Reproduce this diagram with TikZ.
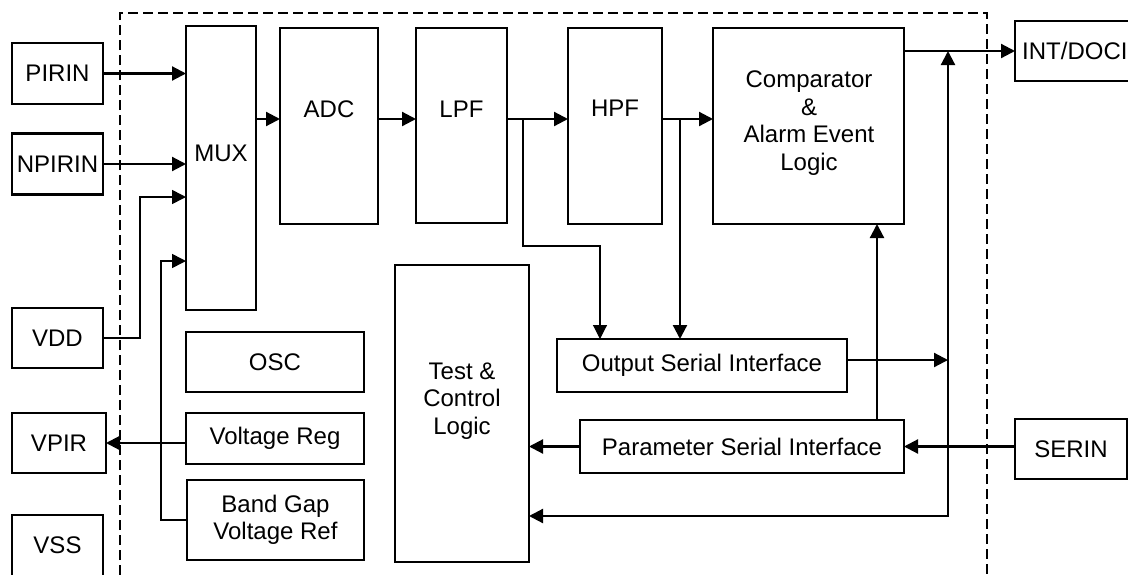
\documentclass[tikz,border=0pt]{standalone}
\usepackage{fontspec}
\setmainfont{Liberation Sans}
\usetikzlibrary{arrows.meta,calc}
\newcommand\diagfont{\fontsize{24}{27.5}\selectfont}
\begin{document}
\begin{tikzpicture}[x=1pt,y=-1pt,
  box/.style={draw,line width=2.2pt,inner sep=0pt,outer sep=0pt,font=\diagfont,align=center},
  lbl/.style={inner sep=0pt,font=\diagfont,align=center},
  arr/.style={line width=2.2pt,-{Triangle[length=14pt,width=14pt]}},
  arrt/.style={line width=1.6pt,-{Triangle[length=14pt,width=14pt]}},
  thinarr/.style={line width=1.1pt,-{Triangle[length=14pt,width=14pt]}},
  frame/.style={line width=2.2pt,dash pattern=on 10pt off 5pt}]
\useasboundingbox (0,0) rectangle (1128,574);
\fill[white] (0,0) rectangle (1128,574);
\clip (0,0) rectangle (1128,574);

% dashed chip outline
\draw[frame] (120,590) -- (120,13) -- (987,13) -- (987,590);

% external pins
\node[box,minimum width=91pt,minimum height=61pt] (pirin) at (57.5,73.5) {PIRIN};
\node[box,minimum width=91pt,minimum height=61pt] (npirin) at (57.5,164) {NPIRIN};
\node[box,minimum width=91pt,minimum height=60pt] (vdd) at (57.5,338) {VDD};
\node[box,minimum width=94pt,minimum height=60pt] (vpir) at (59,443) {VPIR};
\node[box,minimum width=91pt,minimum height=61pt] (vss) at (57.5,545.5) {VSS};
\node[box,minimum width=112pt,minimum height=60pt] (serin) at (1071,449) {SERIN};
\node[box,minimum width=120pt,minimum height=60pt] (intdoci) at (1075,51) {};
\node[lbl,anchor=west] (intdocit) at (1022,51) {INT/DOCI};

% internal blocks
\node[box,minimum width=70pt,minimum height=284pt] (mux) at (221,168) {};
\node[lbl] (muxt) at (221,153) {MUX};
\node[box,minimum width=98pt,minimum height=196pt] (adc) at (329,126) {};
\node[lbl] (adct) at (329,109) {ADC};
\node[box,minimum width=91pt,minimum height=195pt] (lpf) at (461.5,125.5) {};
\node[lbl] (lpft) at (461.5,109) {LPF};
\node[box,minimum width=94pt,minimum height=196pt] (hpf) at (615,126) {};
\node[lbl] (hpft) at (615,108) {HPF};
\node[box,minimum width=191pt,minimum height=196pt] (comp) at (808.5,126) {};
\node[lbl] (compt) at (809,123) {Comparator\\\&\\Alarm Event\\Logic};
\node[box,minimum width=134pt,minimum height=297pt] (test) at (462,413.5) {};
\node[lbl] (testt) at (462,401) {Test \&\\Control\\Logic};
\node[box,minimum width=178pt,minimum height=60pt] (osc) at (275,362) {OSC};
\node[box,minimum width=178pt,minimum height=51pt] (vreg) at (275,438.5) {Voltage Reg};
\node[box,minimum width=177pt,minimum height=80pt] (bgap) at (275.5,520) {Band Gap\\Voltage Ref};
\node[box,minimum width=290pt,minimum height=53pt] (osi) at (702,365.5) {Output Serial Interface};
\node[box,minimum width=324pt,minimum height=53pt] (psi) at (742,446.5) {Parameter Serial Interface};

% junction coordinates
\coordinate (sig) at (0,119);
\coordinate (lpfbr) at (523,119);
\coordinate (hpfbr) at (680,119);
\coordinate (bus) at (948,516);
\coordinate (bustop) at (948,51);
\coordinate (osiout) at (948,360);
\coordinate (psiup) at (877,420);

% inputs to MUX
\draw[arr] (pirin.east) -- (pirin.east -| mux.west);
\draw[arr] (npirin.east) -- (npirin.east -| mux.west);
\draw[arrt] (vdd.east) -- (140,338) -- (140,197) -- (mux.west |- 0,197);
\draw[arrt] (bgap.west) -- (161,520) -- (161,261) -- (mux.west |- 0,261);
\draw[arr] (vpir.east -| vreg.west) -- (vpir.east);

% signal chain
\draw[arr] (mux.east |- sig) -- (adc.west |- sig);
\draw[arr] (adc.east |- sig) -- (lpf.west |- sig);
\draw[arr] (lpf.east |- sig) -- (hpf.west |- sig);
\draw[arr] (hpf.east |- sig) -- (comp.west |- sig);
\draw[thinarr] (lpfbr) -- (523,246) -- (600,246) -- (osi.north -| 600,0);
\draw[arr] (hpfbr) -- (osi.north -| hpfbr);

% outputs
\draw[arr] (comp.east |- intdoci.west) -- (intdoci.west);
\draw[arr] (osi.east |- osiout) -- (osiout);
\draw[line width=2.2pt,{Triangle[length=14pt,width=14pt]}-{Triangle[length=14pt,width=14pt]}]
  (bustop) -- (bus) -- (test.east |- bus);
\draw[arr] (psiup) -- (comp.south -| psiup);
\draw[arr] (serin.west |- psi.east) -- (psi.east);
\draw[arr] (psi.west) -- (test.east |- psi.west);
\end{tikzpicture}
\end{document}
